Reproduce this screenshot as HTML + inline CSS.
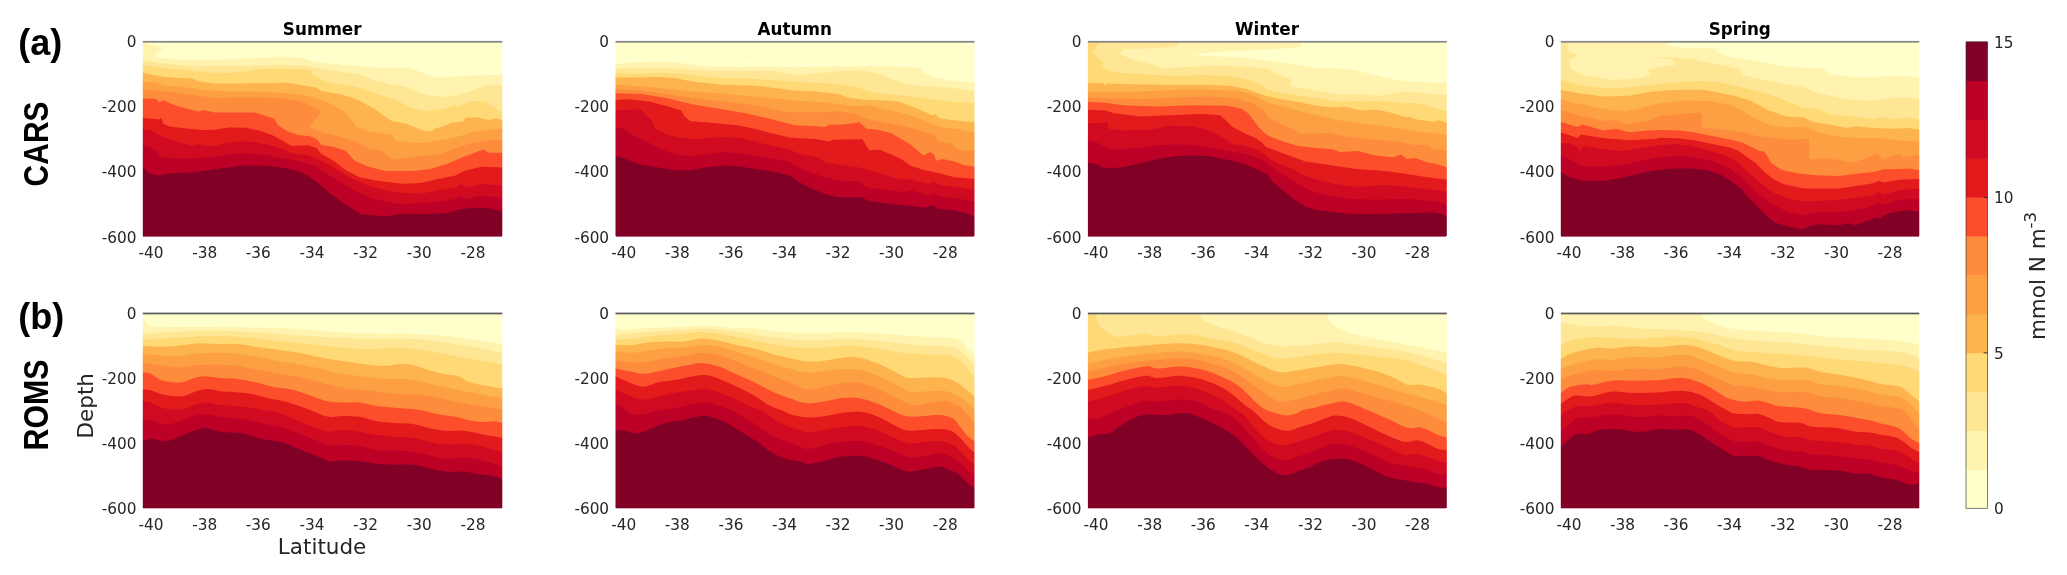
<!DOCTYPE html>
<html lang="en"><head><meta charset="utf-8"><title>Nitrate sections CARS vs ROMS</title>
<style>html,body{margin:0;padding:0;background:#fff}svg{display:block}.t{font-family:"DejaVu Sans","Liberation Sans",sans-serif;fill:#262626}.tk{font-size:15.3px}.ti{font-size:16.8px;font-weight:bold;fill:#000}.lb{font-size:21.5px}.big{font-family:"Liberation Sans","DejaVu Sans",sans-serif;font-weight:bold;fill:#000}</style></head><body>
<svg id="fig" style="will-change:transform;filter:blur(0.35px)" width="2067" height="575" viewBox="0 0 2067 575">
<rect width="2067" height="575" fill="#fff"/>
<defs><g id="pa1"><svg x="142" y="42" width="360.1" height="195" viewBox="0 0 1062 575" preserveAspectRatio="none" overflow="visible"><rect x="-10" y="-10" width="1082" height="595" fill="#ffffcc"/><path d="M-5,0 0,0 30,8 64,17 35,42 60,49 128,52 231,52.6 295,49 360,46.7 421,42.4 475,48 501,55.7 531,60.8 582,66 633,71 685,75 736,75 787,76 818,86.4 849,99 880,104.4 931,100.8 992,98.2 1062,96.7 1067,96.7 1067,580 -5,580Z" fill="#fff3af"/><path d="M-5,54.4 0,54.4 64,63.4 128,68.6 180,71 282,71 360,68.6 411,67.3 488,71 531,78.7 582,86.4 633,94 664,101.8 685,114.6 736,125 772,130 813,148 849,158 890,163.4 931,155.7 967,145.4 1013,128.5 1044,126.4 1062,126.4 1067,126.4 1067,580 -5,580Z" fill="#ffe694"/><path d="M-5,68.6 0,68.6 64,76.3 128,82.7 205,90.4 257,91.7 308,86.5 334,81.4 385,78.8 462,80 501,84 503,96.8 531,112 582,125 633,132.6 700,155.7 751,171 787,191.5 839,204.4 890,196.7 926,186.4 931,191.5 972,173.6 1013,176 1044,196.7 1062,209.5 1067,209.5 1067,580 -5,580Z" fill="#fed976"/><path d="M-5,90.4 0,90.4 51,100.7 103,105.8 144,107 167,116 218,122.5 270,122.5 372,121 424,120 462,125 514,135 531,145 582,153 633,168.5 685,196.7 736,232.6 777,240.3 828,260.8 854,263.4 864,255.7 890,248 915,237.7 946,235 956,222.3 992,222.3 1023,230 1044,225 1062,230 1067,230 1067,580 -5,580Z" fill="#feb44e"/><path d="M-5,117.4 0,117.4 38.5,118.6 64,127.6 116,131.5 154,138 180,141.8 257,146 334,146 411,150 466,155 500,162 531,171 562,184 603,209.5 633,250.6 659,260.8 736,273.6 753,293 825,298 876,290 928,280 979,264.6 1030,258 1062,256 1067,256 1067,580 -5,580Z" fill="#fda044"/><path d="M-5,140.5 0,140.5 77,145.6 154,156 216,166 257,163.6 334,162.6 411,166 462,174 493,186.7 529,205 510,230 494,252 533,267 569,275 635,295.4 668,314 709,321.6 740,347 770,342 822,337 873,332 924,314 976,296 1030,290 1062,290 1067,290 1067,580 -5,580Z" fill="#fd8d3c"/><path d="M-5,167 0,167 41,167 51,177.5 64,172 92,185 128,195 169,205.7 180,200.5 215,208 267,208 333,208 359,216 390,226 400,244 426,262 462,275 492,277.5 514,285 529,303.6 565,308.8 601,321.6 627,350 668,368 719,380.7 796,380.7 847,375.5 899,360 940,342 976,329 1007,316.5 1022,326.8 1062,326.8 1067,326.8 1067,580 -5,580Z" fill="#fc4e2a"/><path d="M-5,223.6 0,223.6 31,226 51,228.7 56,223.6 64,241.5 82,249 128,255 180,259.5 215,258.5 256,252 308,253 349,262 390,277.5 421,295 441,306.7 488,304.7 514,312 529,330 565,350 601,378 642,398.7 693,409 770,417.7 822,415.6 873,403.8 924,393.5 950,380.7 1001,367.8 1062,370.4 1067,370.4 1067,580 -5,580Z" fill="#e31a1c"/><path d="M-5,257 0,257 31,262 56,277.5 87,290 128,300.5 149,305.7 164,301.6 205,308 246,298 287,293 328,294.4 369,303 410,313 436,326 462,331 492,334 529,350 565,370 616,401 668,424 719,437 770,445 822,447.5 873,437 924,429.5 940,417.6 955,429.5 1001,419 1062,424 1067,424 1067,580 -5,580Z" fill="#d00a21"/><path d="M-5,305.7 0,305.7 26,311 46,326 56,339 103,344 154,342.6 205,339 256,332 308,328.8 359,332 410,341.6 462,352 513,367 565,401 616,432 668,458 719,470.5 755,477 822,475.7 873,470.5 924,463 940,452.6 955,463 1001,452.6 1062,460 1067,460 1067,580 -5,580Z" fill="#bd0026"/><path d="M-5,365 0,365 20,386 46,393.5 77,388 154,383 231,373 298,364 360,365 411,370 452,378 488,393.5 524,419 555,447 591,473 627,496 647,509 719,514 770,506.5 847,507.5 899,504 935,494 976,488.5 1027,490 1062,499 1067,499 1067,580 -5,580Z" fill="#800026"/></svg></g><g id="pa2"><svg x="615.1" y="42" width="360.1" height="195" viewBox="0 0 1062 575" preserveAspectRatio="none" overflow="visible"><rect x="-10" y="-10" width="1082" height="595" fill="#ffffcc"/><path d="M377,45 390,43.6 410,43.6 424,44.6 408,46 388,46Z" fill="#fff3af"/><path d="M-5,66 0,66 51,61 103,57.3 154,58.3 205,63.4 257,71 360,73.7 462,72 530,74.6 633,72.6 736,71 838,72.6 900,76 913,94 941,104.4 992,114.6 1062,120 1067,120 1067,580 -5,580Z" fill="#fff3af"/><path d="M-5,79 0,79 77,76 180,79 257,84 360,86.5 452,84 514,94 530,99 607,91.6 684,85 736,85 787,96.7 828,114.6 864,125 941,132.6 992,135 1062,145 1067,145 1067,580 -5,580Z" fill="#ffe694"/><path d="M-5,91.7 0,91.7 51,94 128,91.7 205,94 282,104.5 360,107 462,112 530,117 633,122.3 710,132.6 761,148 818,155.7 890,162 941,170 992,176 1062,180 1067,180 1067,580 -5,580Z" fill="#fed976"/><path d="M-5,104.5 0,104.5 51,104.5 128,103.5 180,107 231,117.4 308,125 411,128.7 488,138 530,143 582,145.4 659,153 684,163.4 736,170 787,172 838,176 879,191.6 915,207 936,217 946,213 956,225 992,230 1043,235 1062,235 1067,235 1067,580 -5,580Z" fill="#feb44e"/><path d="M-5,125 0,125 51,128.7 103,132.8 180,140.5 257,148 334,153.3 411,161 514,171.3 582,176 633,178.8 700,189 751,187.5 787,196.7 838,207 890,222.4 941,243 966,250.6 1018,258.3 1062,268.5 1067,268.5 1067,580 -5,580Z" fill="#fda044"/><path d="M-5,139 0,139 77,143 154,153.3 231,166 308,174 411,186.7 514,207 607,207 659,204.4 710,212 746,227.5 787,235 838,245.4 890,258.3 941,273.6 956,294 992,299.3 1018,320 1062,320 1067,320 1067,580 -5,580Z" fill="#fd8d3c"/><path d="M-5,150.7 0,150.7 77,153.3 154,166 231,184 308,197 385,210 462,227.8 530,245.4 582,248 618,250.6 633,244 674,243 720,236.7 741,255.7 772,258.3 813,268.5 849,289 873,303.6 909,334.5 930,324 940,332 948,350 966,344.7 1001,352.4 1027,362.7 1062,368 1067,368 1067,580 -5,580Z" fill="#fc4e2a"/><path d="M-5,171.3 0,171.3 41,168.7 103,176.4 154,189.3 195,202 205,220 221,233 282,238 360,245.8 411,256 462,269 514,281.7 539,283 591,285.7 632,293.4 642,288 729,287 750,319 781,318 822,334.5 847,347.3 873,365.3 914,378 950,385.8 1001,398.7 1062,403.8 1067,403.8 1067,580 -5,580Z" fill="#e31a1c"/><path d="M-5,202 0,202 77,198 92,215 108,230.4 118,256 154,274 195,283 231,287 277,283 320,280 370,283 411,293.4 462,306 514,316.5 539,329 565,334.5 596,339.6 621,355 668,362.7 719,370.4 770,383 822,401 873,406 924,419 940,411.5 955,421.8 1001,427 1062,437 1067,437 1067,580 -5,580Z" fill="#d00a21"/><path d="M-5,251 0,251 26,256 62,281.7 103,298.5 134,316.5 180,332 221,337 267,332 318,325 370,328 421,337 472,344.7 514,352.4 534,368 565,380.7 616,398.7 668,409 719,411.5 745,429.5 796,434.6 847,442.3 873,437 924,452.6 940,445 955,455 1001,460.3 1062,470.6 1067,470.6 1067,580 -5,580Z" fill="#bd0026"/><path d="M-5,334.5 0,334.5 31,344.7 67,360 128,370.4 180,378 221,378 267,370.4 318,364 370,368 421,375.5 472,383 514,393.5 539,411.5 575,429.5 616,447.5 657,457.7 693,457.7 729,457.7 745,468 796,475.7 847,480.8 914,488.5 935,480.8 950,491 1001,496 1048,509 1062,519 1067,519 1067,580 -5,580Z" fill="#800026"/></svg></g><g id="pa3"><svg x="1087.7" y="42" width="360.1" height="195" viewBox="0 0 1062 575" preserveAspectRatio="none" overflow="visible"><rect x="-10" y="-10" width="1082" height="595" fill="#ffffcc"/><path d="M-5,-5 1067,-5 1067,580 -5,580Z" fill="#fff3af"/><path d="M299,37.8 360,31 412,27.5 540,22.3 627.5,15.7 632.6,-5 1067,-5 1067,117.4 1028,120 951,117.4 900,109.7 823,91.7 771,78.8 669,76.3 617,66 540,55.7 463,45.5 386,43Z" fill="#ffffcc"/><path d="M-5,-5 -5,-5 268,-5 268,1.8 265.4,12 206,18.7 104,20.8 93.3,35 129,50.6 181,63.4 216.6,76.3 265.7,74.9 368.3,69.8 470.9,72.3 532.4,79 552.9,92.8 599,109.8 601.7,131.3 659.3,140.3 736.3,153 813.2,155.7 864.5,158.2 941.4,145.4 992.7,150.6 1062,155.7 1067,155.7 1067,580 -5,580Z" fill="#ffe694"/><path d="M-5,-5 -5,-5 31.7,-5 31.7,1.8 13.7,30 47,60.9 39.4,76.3 78,89 181,96.8 265.7,100.5 342.6,97 419.6,100.5 470.9,110.8 512,126.2 532.4,141.6 573.4,149.3 624.7,159.5 685,166 736.3,176.2 813.2,173.6 890,176.2 931,181.3 967,178.8 1018.4,194 1062,205 1067,205 1067,580 -5,580Z" fill="#fed976"/><path d="M-5,120 0,120 47,122.5 52,128.7 57,122.5 155,125 265.7,126.2 342.6,126.2 419.6,128.7 470.9,139 522.2,158 573.4,169.8 624.7,177.5 676,187.7 727.3,192.9 758,190.3 796.6,200.6 813.2,201.8 849,199.3 890,207 941.4,222.4 946.5,219.8 967,227.5 1018.4,235.2 1033.7,230 1062,240.3 1067,240.3 1067,580 -5,580Z" fill="#feb44e"/><path d="M-5,148 0,148 52,148 155,145.6 258,140.5 360,140.5 437,143 489,155 531,178.8 582.4,191.6 659.3,212 736.3,230 813.2,240.3 890,250.6 967,263.4 1062,273.6 1067,273.6 1067,580 -5,580Z" fill="#fda044"/><path d="M-5,163.6 0,163.6 78,166 155,168.7 258,163.6 360,161 437,166 489,181.6 520,199.5 531,222.4 582.4,248 633.7,271 710.6,268.5 762,278.8 838.8,286.5 915.8,294.2 967,304.4 1003,301.9 1018.4,317.2 1062,319.8 1067,319.8 1067,580 -5,580Z" fill="#fd8d3c"/><path d="M-5,176.4 0,176.4 52,179 104,186.7 206,190.3 309,186.7 412,188.2 453,197 473,209.8 489,230.4 504,251 525,271.4 545,281.7 576,293.4 617,306 658,311.3 720,316.5 746,324 797,321.6 848,334.5 900,339.6 925,332 941,344.7 966,342 1002,355 1028,360 1062,370.4 1067,370.4 1067,580 -5,580Z" fill="#fc4e2a"/><path d="M-5,199.5 0,199.5 52,202 78,209.8 155,220 258,215 335,212.4 391,216 412,235.5 427,251 463,269 494,283 514.5,296 525,308.8 566,324 607,339.6 643,352.4 694,360 746,368 797,375.5 848,378 900,383 951,391 1002,398.7 1062,406.4 1067,406.4 1067,580 -5,580Z" fill="#e31a1c"/><path d="M-5,240.6 0,240.6 52,238 57,233 62,256 104,261.2 181,258.6 247,246.8 309,248.3 360,261.2 401,283 427,301 463,306 494,314 520,329.3 540,347.3 566,360 607,375.5 643,396 694,411.5 746,421.8 797,427 874,421.8 925,424.4 977,432 1028,437 1062,442.3 1067,442.3 1067,580 -5,580Z" fill="#d00a21"/><path d="M-5,290.8 0,290.8 32,298.5 62.5,316.5 104,318 155,311.3 206,304.7 258,302.6 309,303.6 360,311.3 412,321.6 463,330.4 504,342 530,355 556,378 592,401 633,427 669,442.3 720,455 771,462.9 848,465.4 925,462.9 977,465.4 1028,470.6 1062,480.8 1067,480.8 1067,580 -5,580Z" fill="#bd0026"/><path d="M-5,355 0,355 21,359 52,373 104,369.4 155,357.6 206,344.7 258,337 309,334.5 360,337 412,347.3 463,360 504,378 530,391 545,411.5 576,437 607,462.9 638,483.4 669,494.7 720,501.4 771,506.5 823,508 874,507.5 925,505 977,504 1013,501.4 1049,509 1062,519 1067,519 1067,580 -5,580Z" fill="#800026"/></svg></g><g id="pa4"><svg x="1560.3" y="42" width="360.1" height="195" viewBox="0 0 1062 575" preserveAspectRatio="none" overflow="visible"><rect x="-10" y="-10" width="1082" height="595" fill="#ffffcc"/><path d="M-5,-5 1067,-5 1067,580 -5,580Z" fill="#fff3af"/><path d="M325,-5 325,1.8 309.8,8.2 358.6,17 474,19.8 456,27.5 487,40 530,49 590,58.3 667,73.7 770,77.3 800,94 872,104.5 949,102 1000,99.4 1067,104.5 1067,-5Z" fill="#ffffcc"/><path d="M-5,-5 -5,-5 23.5,-5 23.5,3 22,27.5 55.6,41.6 24.8,51.9 32.5,78.8 63.3,96.8 153,112 230,107 268.7,96.8 253.3,84 281.6,76.3 343,66 333,53 271.3,44 333,45.5 384,49.3 435.7,60.9 487,71 530,80 533,97 615.4,114.8 667,125 718,132.8 744,145.6 795,158.5 846.5,168.7 898,174 949,168.7 1000,162.6 1062,168.7 1067,168.7 1067,580 -5,580Z" fill="#ffe694"/><path d="M-5,111 0,111 50.5,125 127.5,136.6 179,135.3 256,127.6 333,120 410,114.8 461,117.4 530,132.8 564,140.5 615.4,153.3 667,174 718,194.4 759,197 800,215 872,220 923.6,227.8 949,220 975,227.8 1026,222.7 1062,230.4 1067,230.4 1067,580 -5,580Z" fill="#fed976"/><path d="M-5,140.5 0,140.5 50.5,150.7 127.5,161 204.5,158.5 256,148 307,143 358.6,140.5 420,140.5 461,148 512.7,158.5 564,174 615.4,202 667,220 718,222.7 744,235.5 795,243 846.5,253.5 872,248.3 923.6,253.5 975,256 1026,253.5 1062,258.6 1067,258.6 1067,580 -5,580Z" fill="#feb44e"/><path d="M-5,168.7 0,168.7 50.5,181.6 127.5,197 194,204.7 256,189.3 294,180 371,172.3 448,175 499,185 535,200.5 560.7,218.5 601.7,239 627.4,246.7 678.7,251.8 719.7,249.3 755.6,264.6 825,280 880,283 949,283 1000.6,290.8 1062,293.4 1067,293.4 1067,580 -5,580Z" fill="#fda044"/><path d="M-5,199.5 0,199.5 50.5,215 127.5,233 163.5,230.4 194,243 256,233 294,218.5 345,213.4 417,208.2 417,251.8 473.5,257 530,264.6 581,277.5 627.4,282.6 678.7,287.7 733,285 735,347 769.5,342 821,347.3 862,355 898,344.7 923.6,334.5 934,326.8 949,344.7 975,337 1000.6,329.3 1011,339.6 1062,332 1067,332 1067,580 -5,580Z" fill="#fd8d3c"/><path d="M-5,235.5 0,235.5 50.5,251 66,243 127.5,261 163.5,256 204.5,266.3 256,261 294,259.5 345,260.5 396.6,267 448,277.5 499,287.7 535,295.4 560.7,308 586.4,321 601.7,323.6 612,339 622,357 653,377.5 704.3,387.7 755.6,393 821,395 872,388.4 923.6,383 954.4,375.5 1000.6,374.5 1026,373 1062,378 1067,378 1067,580 -5,580Z" fill="#fc4e2a"/><path d="M-5,266.3 0,266.3 30,276 50.5,283 60.7,273 127.5,284 204.5,290 281.6,285 294,282.6 345,284 396.6,290 448,300.5 499,310.8 525,321 550.5,339 576,357 601.7,382.6 627.4,403 656.5,419 718,432 769.5,432 821,432 872,424.4 923.6,416.6 939,409 954.4,414 1000.6,406.4 1062,403.8 1067,403.8 1067,580 -5,580Z" fill="#e31a1c"/><path d="M-5,298.5 0,298.5 30,298.5 50.5,308.8 58,324 71,306 127.5,316.5 179,321.6 230,314 281.6,306 333,301 384,306 435.7,319 487,334.5 523,355 553.8,383 589.7,416.6 631,445 667,460.3 718,470.6 769.5,468 821,465.4 872,460.3 923.6,452.6 939,442.3 954.4,450 1000.6,437 1062,432 1067,432 1067,580 -5,580Z" fill="#d00a21"/><path d="M-5,334.5 0,334.5 24.8,344.7 50.5,360 76,367.8 127.5,367.8 179,362.7 230,352.4 281.6,342 333,337 384,338.6 435.7,347.3 487,365.3 523,391 553.8,419 589.7,452.6 625.7,478.3 667,498.8 718,511.7 744,504 795,501.4 846.5,498.8 898,491 928.7,478.3 939,473 949,480.8 1000.6,465.4 1062,462.9 1067,462.9 1067,580 -5,580Z" fill="#bd0026"/><path d="M-5,383 0,383 30,398.7 60.7,409 127.5,409 179,401 230,388.4 281.6,378 333,373 384,373 435.7,378 471.6,391 502.4,409 533,432 553.8,457.7 579.5,483.4 605,509 631,532 667,542.5 713,552.7 744,540 769.5,537.3 821,540 851.7,534.8 872,540 913,524.5 934,516.8 939,522 964.7,506.5 1000.6,498.8 1026,496 1062,501.4 1067,501.4 1067,580 -5,580Z" fill="#800026"/></svg></g><g id="pb1"><svg x="142.5" y="313.5" width="360.1" height="195" viewBox="0 0 1062 575" preserveAspectRatio="none" overflow="visible"><rect x="-10" y="-10" width="1082" height="595" fill="#ffffcc"/><path d="M-5,3C-4.2,3 -1.3,1.3 0,3C1.3,4.7 0.3,8.3 2.6,13C4.9,17.7 9.6,26.5 14,31C18.4,35.5 10.5,38.3 29.3,39.8C48.1,41.3 89.4,39.7 127,39.8C164.6,39.9 216.5,40.1 255,40.4C293.5,40.7 328,40.8 358,41.4C388,42 409.3,42.6 435,44C460.7,45.4 482,47.9 512,50C542,52.1 580.8,55.2 615,56.8C649.2,58.4 687.6,59 717.5,59.4C747.4,59.8 768.9,58.5 794.6,59.4C820.3,60.2 845.9,62.4 871.6,64.5C897.3,66.6 927.3,69.6 948.7,72.2C970.1,74.8 983.8,77.4 1000,80C1016.2,82.6 1035.7,85.9 1046,87.6C1056.3,89.3 1058.5,89.6 1062,90C1065.5,90.4 1066.2,90 1067,90L1067,580 L-5,580 Z" fill="#fff3af"/><path d="M-5,59.4C-4.2,59.4 -13.4,60.1 0,59.4C13.4,58.7 50.1,56.6 75.5,55.3C100.9,54 122.7,52.3 152.6,51.7C182.5,51.1 220.8,50.9 255,51.7C289.2,52.6 323.7,54.7 358,56.8C392.3,58.9 426.4,62.2 460.7,64.5C494.9,66.8 529.3,69 563.5,70.7C597.7,72.4 631.8,74.1 666,74.8C700.2,75.5 739,74.1 769,74.8C799,75.5 820.3,76.4 846,78.9C871.7,81.4 897.3,86 923,90C948.7,94 976.8,98.5 1000,103C1023.2,107.5 1050.8,114.7 1062,117C1073.2,119.3 1066.2,117 1067,117L1067,580 L-5,580 Z" fill="#ffe694"/><path d="M-5,77.3C-4.2,77.3 -13.4,78 0,77.3C13.4,76.6 47.5,74.9 75.5,73.2C103.5,71.5 138.1,67.9 168,67C197.9,66.1 227.7,67 255,68C282.3,69 306.3,70.8 332,73.2C357.7,75.6 379.4,79.2 409.4,82.5C439.4,85.8 482.1,89.8 512,92.8C541.9,95.8 563.3,98.4 589,100.5C614.7,102.6 640.3,105.6 666,105.6C691.7,105.6 721.6,100.9 743,100.5C764.4,100.1 773.2,100.4 794.6,103C816,105.6 850.2,112.1 871.6,115.9C893,119.7 905.9,122.8 923,126C940.1,129.2 957,132.2 974,135C991,137.8 1010.3,140.5 1025,143C1039.7,145.5 1055,148.8 1062,150C1069,151.2 1066.2,150 1067,150L1067,580 L-5,580 Z" fill="#fed976"/><path d="M-5,95.3C-4.2,95.3 -9.2,94.9 0,95.3C9.2,95.7 33.2,97.9 50,97.9C66.8,97.9 81.3,97 101,95.3C120.7,93.6 146.6,88.4 168,87.6C189.4,86.8 210.8,89.8 229.6,90.2C248.4,90.6 263.9,88.9 281,90.2C298.1,91.5 310.6,94.9 332,97.9C353.4,100.9 387.9,105 409.4,108C430.8,111 443.6,112.7 460.7,115.9C477.8,119.1 494.9,123.6 512,127C529.1,130.4 546.3,133.6 563.5,136.4C580.7,139.2 597.9,141.6 615,144C632.1,146.4 648.9,149.1 666,150.8C683.1,152.5 702.1,154.7 717.5,154.4C732.9,154.1 745.8,149.6 758.6,149.2C771.5,148.8 780,148.8 794.6,151.8C809.2,154.8 828.9,162.3 846,167C863.1,171.7 882.8,177 897.3,180C911.8,183 922.7,181.6 933,185C943.3,188.4 947.8,196.3 959,200.6C970.2,204.9 982.8,207.5 1000,210.9C1017.2,214.3 1050.8,219.3 1062,221C1073.2,222.7 1066.2,221 1067,221L1067,580 L-5,580 Z" fill="#feb44e"/><path d="M-5,118.4C-4.2,118.4 -9.2,117.5 0,118.4C9.2,119.3 33.2,122.3 50,123.6C66.8,124.9 83.9,126.9 101,126C118.1,125.1 131.2,120.1 152.6,118.4C174,116.7 208.2,115.9 229.6,115.9C251,115.9 263.9,116.6 281,118.4C298.1,120.2 310.6,123.2 332,127C353.4,130.8 383.7,136.9 409.4,141.5C435.1,146.1 460.7,149.2 486.4,154.4C512.1,159.6 537.8,167.3 563.5,172.4C589.2,177.5 614.8,181.6 640.5,185C666.2,188.4 696.1,191.7 717.5,193C738.9,194.3 751.9,191.7 769,193C786.1,194.3 803.2,197.2 820.3,200.6C837.4,204 854.5,209.6 871.6,213.4C888.7,217.2 905.9,220.3 923,223.7C940.1,227.1 957.2,230.6 974.3,234C991.4,237.4 1011.1,241.7 1025.7,244.3C1040.3,246.9 1055.1,248.6 1062,249.4C1068.9,250.2 1066.2,249.4 1067,249.4L1067,580 L-5,580 Z" fill="#fda044"/><path d="M-5,144C-4.2,144 -9.2,142.7 0,144C9.2,145.3 33.2,149.2 50,151.8C66.8,154.4 83.9,159.3 101,159.5C118.1,159.7 131.2,154.2 152.6,152.8C174,151.4 208.2,150.5 229.6,150.8C251,151.1 263.9,152.1 281,154.4C298.1,156.7 310.6,160.8 332,164.7C353.4,168.5 383.7,172.8 409.4,177.5C435.1,182.2 460.7,187 486.4,193C512.1,199 542.1,208.3 563.5,213.4C584.9,218.5 597.9,221.5 615,223.7C632.1,225.8 648.9,224.6 666,226.3C683.1,228 700.3,231.9 717.5,234C734.7,236.1 751.9,238.2 769,239C786.1,239.8 803.2,237.3 820.3,239C837.4,240.7 854.5,246 871.6,249.4C888.7,252.8 905.9,256.3 923,259.7C940.1,263.1 957.2,267.1 974.3,270C991.4,272.9 1011.1,275 1025.7,277C1040.3,279 1055.1,281.2 1062,282C1068.9,282.8 1066.2,282 1067,282L1067,580 L-5,580 Z" fill="#fd8d3c"/><path d="M-5,175C-4.2,175 -4.8,174.6 0,175C4.8,175.4 14,173.7 24,177.5C34,181.3 44.6,193.8 60,198C75.4,202.2 101.2,204.3 116.6,203C132,201.7 141.5,193.3 152.6,190.3C163.7,187.3 170.6,185 183.4,185C196.2,185 213.3,189 229.6,190.3C245.9,191.6 263.9,190.9 281,193C298.1,195.1 314.9,199.2 332,203C349.1,206.8 366.5,212.6 383.7,216C400.9,219.4 417.9,219.9 435,223.7C452.1,227.5 469.3,233.4 486.4,239C503.5,244.6 520.7,253.1 537.8,257C554.9,260.9 571.9,261.3 589,262.2C606.1,263.1 623.3,260.5 640.5,262.2C657.7,263.9 674.9,269.9 692,272.5C709.1,275.1 725.9,276.1 743,277.6C760.1,279.1 780,280.1 794.6,281.6C809.2,283.1 817.7,284.1 830.5,286.7C843.3,289.3 856.2,294 871.6,297C887,300 907.6,301.7 923,304.7C938.4,307.7 950.3,312.4 964,315C977.7,317.6 993,319.6 1005,320C1017,320.4 1026.5,317.2 1036,317.6C1045.5,318.1 1056.8,321.9 1062,322.7C1067.2,323.5 1066.2,322.7 1067,322.7L1067,580 L-5,580 Z" fill="#fc4e2a"/><path d="M-5,223.7C-4.2,223.7 -4.8,223.3 0,223.7C4.8,224.1 14,223.8 24,226.3C34,228.9 44.6,236 60,239C75.4,242 101.2,245.6 116.6,244.3C132,243 140.6,235 152.6,231.4C164.6,227.8 175.7,223.1 188.5,222.7C201.3,222.3 216.8,227.4 229.6,228.9C242.4,230.4 251,230.1 265.6,231.4C280.2,232.7 299.9,233.6 317,236.6C334.1,239.6 351.2,245.6 368.3,249.4C385.4,253.2 404.3,255.8 419.7,259.7C435.1,263.6 449.6,268.9 460.7,272.5C471.8,276.1 477.8,278.4 486.4,281.6C494.9,284.9 501.7,288.1 512,292C522.3,295.9 535.2,303 548,304.7C560.8,306.4 573.6,302 589,302C604.4,302 623.3,302.1 640.5,304.7C657.7,307.3 674.9,314.6 692,317.6C709.1,320.6 725.9,321.4 743,322.7C760.1,324 777.4,322.8 794.6,325.3C811.8,327.9 828.9,334.6 846,338C863.1,341.4 880.2,344.5 897.3,345.8C914.4,347.1 931.6,344.1 948.7,345.8C965.8,347.5 983.8,353 1000,356C1016.2,359 1035.7,362.1 1046,363.8C1056.3,365.5 1058.5,365.9 1062,366.3C1065.5,366.7 1066.2,366.3 1067,366.3L1067,580 L-5,580 Z" fill="#e31a1c"/><path d="M-5,259.7C-4.2,259.7 -4.8,259.3 0,259.7C4.8,260.1 13.1,258.8 24,262.2C34.9,265.6 49.9,276.8 65.3,280.2C80.7,283.6 102,284.5 116.6,282.8C131.2,281.1 140.6,273.4 152.6,270C164.6,266.6 175.7,262.2 188.5,262.2C201.3,262.2 216.8,268.3 229.6,270C242.4,271.7 251,271.2 265.6,272.5C280.2,273.8 303.3,275.9 317,277.6C330.7,279.4 336.6,281.1 347.7,283C358.8,284.9 371.7,286.5 383.7,289.3C395.7,292.1 406.9,294.9 419.7,299.6C432.5,304.3 445.3,311.2 460.7,317.6C476.1,324 497.4,332.9 512,338C526.5,343.1 535.2,347.6 548,348.4C560.8,349.2 573.6,343 589,343C604.4,343 623.3,345.8 640.5,348.4C657.7,351 674.9,356 692,358.6C709.1,361.2 725.9,362.5 743,363.8C760.1,365.1 777.4,363.8 794.6,366.3C811.8,368.8 828.9,375.6 846,379C863.1,382.4 880.2,386.1 897.3,387C914.4,387.9 931.6,383.5 948.7,384.3C965.8,385.1 983.8,388.6 1000,392C1016.2,395.4 1035.7,401.9 1046,404.9C1056.3,407.9 1058.5,409.1 1062,410C1065.5,410.9 1066.2,410 1067,410L1067,580 L-5,580 Z" fill="#d00a21"/><path d="M-5,315C-4.2,315 -4.8,315 0,315C4.8,315 12.3,312.9 24,315C35.7,317.1 55,327.8 70.4,327.8C85.8,327.8 102.9,319.3 116.6,315C130.3,310.7 140.6,305 152.6,302C164.6,299 175.7,296.6 188.5,297C201.3,297.4 216.8,302.6 229.6,304.7C242.4,306.8 252.8,308.5 265.6,309.8C278.5,311.1 291.3,309.8 306.7,312.4C322.1,315 340.9,321.4 358,325.3C375.1,329.2 392.3,330.8 409.4,335.5C426.5,340.2 443.6,347.1 460.7,353.5C477.8,359.9 496.6,368 512,374C527.4,380 540.2,387.3 553,389.5C565.8,391.7 574.4,386.6 589,387C603.6,387.4 623.3,389.4 640.5,392C657.7,394.6 674.9,400.2 692,402.3C709.1,404.4 725.9,404 743,404.9C760.1,405.8 777.4,405.3 794.6,407.4C811.8,409.5 828.9,414.3 846,417.7C863.1,421.1 880.2,426.7 897.3,428C914.4,429.3 931.6,424.6 948.7,425.4C965.8,426.2 983.8,429.6 1000,433C1016.2,436.4 1035.7,442.6 1046,446C1056.3,449.4 1058.5,452.4 1062,453.7C1065.5,455 1066.2,453.7 1067,453.7L1067,580 L-5,580 Z" fill="#bd0026"/><path d="M-5,376.6C-4.2,376.6 -5.7,377.9 0,376.6C5.7,375.3 17.6,369 29.3,369C41,369 56.7,377.9 70.4,376.6C84.1,375.3 97.8,366.1 111.5,361C125.2,355.9 139.8,349.6 152.6,345.8C165.4,342 175.7,337.6 188.5,338C201.3,338.4 216.8,346.2 229.6,348.4C242.4,350.6 252.8,349.7 265.6,351C278.5,352.3 291.3,352.6 306.7,356C322.1,359.4 340.9,367.7 358,371.5C375.1,375.3 392.3,374.3 409.4,379C426.5,383.7 443.6,392.8 460.7,399.7C477.8,406.6 496.6,414.3 512,420.3C527.4,426.3 540.2,433.6 553,435.7C565.8,437.8 574.4,433 589,433C603.6,433 623.3,434 640.5,435.7C657.7,437.4 674.9,441.7 692,443.4C709.1,445.1 725.9,445.6 743,446C760.1,446.4 777.4,444.3 794.6,446C811.8,447.7 828.9,452.8 846,456.2C863.1,459.6 880.2,464.8 897.3,466.5C914.4,468.2 931.6,465.2 948.7,466.5C965.8,467.8 983.8,471.6 1000,474.2C1016.2,476.8 1035.7,479.4 1046,482C1056.3,484.6 1058.5,488.3 1062,489.6C1065.5,490.9 1066.2,489.6 1067,489.6L1067,580 L-5,580 Z" fill="#800026"/></svg></g><g id="pb2"><svg x="615.1" y="313.5" width="360.1" height="195" viewBox="0 0 1062 575" preserveAspectRatio="none" overflow="visible"><rect x="-10" y="-10" width="1082" height="595" fill="#ffffcc"/><path d="M-5,38.8C-4.2,38.8 -3.3,37.5 0,38.8C3.3,40.1 6.5,45.4 15,46.5C23.5,47.6 32.2,46.4 51,45.5C69.8,44.6 102.3,42.5 128,41.4C153.7,40.3 183.6,39.8 205,38.8C226.4,37.8 239.3,35.2 256.5,35.2C273.7,35.2 290.9,37.5 308,38.8C325.1,40.1 341.9,42.1 359,43C376.1,43.9 393.4,42.5 410.6,44C427.8,45.5 440.6,49.6 462,51.7C483.4,53.8 513.3,55.9 539,56.8C564.7,57.6 590.3,57.2 616,56.8C641.7,56.4 667.3,54 693,54.2C718.7,54.5 744.3,56.6 770,58.3C795.7,60 821.3,62.6 847,64.5C872.7,66.4 900,68.3 924,69.6C948,70.9 974.7,70 991,72.2C1007.3,74.4 1014.1,77.4 1021.8,82.5C1029.5,87.6 1030.3,96.8 1037,103C1043.7,109.2 1057,117.2 1062,120C1067,122.8 1066.2,120 1067,120L1067,580 L-5,580 Z" fill="#fff3af"/><path d="M-5,62C-4.2,62 -9.3,62.4 0,62C9.3,61.6 29.7,61.1 51,59.4C72.3,57.7 102.3,53.6 128,51.7C153.7,49.8 183.6,49.3 205,48C226.4,46.7 239.3,44 256.5,44C273.7,44 290.9,46.3 308,48C325.1,49.7 341.9,51.9 359,54.2C376.1,56.5 393.4,59.4 410.6,62C427.8,64.6 440.6,67 462,69.6C483.4,72.1 513.3,76 539,77.3C564.7,78.6 590.3,77.7 616,77.3C641.7,76.9 667.3,74.3 693,74.8C718.7,75.2 744.3,77.9 770,80C795.7,82.1 821.3,85 847,87.6C872.7,90.1 900,93.6 924,95.3C948,97 973.8,94.1 991,97.9C1008.2,101.7 1015.2,108.5 1027,118C1038.8,127.5 1055.3,148.8 1062,155C1068.7,161.2 1066.2,155 1067,155L1067,580 L-5,580 Z" fill="#ffe694"/><path d="M-5,77.3C-4.2,77.3 -9.3,77.7 0,77.3C9.3,76.9 29.7,76.9 51,74.8C72.3,72.7 102.3,67.1 128,64.5C153.7,61.9 183.6,61.1 205,59.4C226.4,57.7 239.3,54.2 256.5,54.2C273.7,54.2 290.9,56.8 308,59.4C325.1,62 341.9,66.2 359,69.6C376.1,73 393.4,76.6 410.6,80C427.8,83.4 440.6,86.8 462,90.2C483.4,93.6 513.3,98.8 539,100.5C564.7,102.2 590.3,101.4 616,100.5C641.7,99.6 667.3,94.9 693,95.3C718.7,95.7 744.3,99.6 770,103C795.7,106.4 821.3,112.9 847,115.9C872.7,118.9 900,119.7 924,121C948,122.3 973.8,119.1 991,123.6C1008.2,128.1 1015.2,136.9 1027,148C1038.8,159.1 1055.3,183 1062,190C1068.7,197 1066.2,190 1067,190L1067,580 L-5,580 Z" fill="#fed976"/><path d="M-5,92.8C-4.2,92.8 -9.3,92.8 0,92.8C9.3,92.8 33.9,94.1 51,92.8C68.1,91.5 85.3,86.7 102.4,85C119.5,83.3 136.7,82.9 153.8,82.5C170.9,82.1 187.9,84 205,82.5C222.1,81 239.3,74.1 256.5,73.7C273.7,73.3 290.9,76.8 308,80C325.1,83.2 341.9,89 359,92.8C376.1,96.6 393.4,98.7 410.6,103C427.8,107.3 444.9,113.7 462,118.4C479.1,123.1 496.2,127.5 513.3,131.3C530.4,135.2 547.6,140.2 564.7,141.5C581.8,142.8 598.9,140.7 616,139C633.1,137.3 652.9,133 667.4,131.3C681.9,129.6 690.5,127.8 703.3,128.7C716.1,129.5 729,131.7 744.4,136.4C759.8,141.1 778.7,149.3 795.8,157C812.9,164.7 834.2,177 847,182.6C859.8,188.2 860,189.4 872.8,190.3C885.6,191.2 906.9,187.8 924,187.8C941.1,187.8 960.9,187.3 975.5,190.3C990.1,193.3 999.5,198.4 1011.5,205.7C1023.5,213 1039,226.7 1047.4,234C1055.8,241.3 1058.7,246.8 1062,249.4C1065.3,252 1066.2,249.4 1067,249.4L1067,580 L-5,580 Z" fill="#feb44e"/><path d="M-5,110.7C-4.2,110.7 -9.3,109.8 0,110.7C9.3,111.6 33.9,116.4 51,115.9C68.1,115.5 85.3,110.2 102.4,108C119.5,105.8 136.7,104.2 153.8,103C170.9,101.8 187.9,102.2 205,100.5C222.1,98.8 239.3,93.2 256.5,92.8C273.7,92.4 290.9,94.5 308,97.9C325.1,101.3 341.9,108.2 359,113.3C376.1,118.4 393.4,123.1 410.6,128.7C427.8,134.3 444.9,141.1 462,146.7C479.1,152.2 496.2,157.3 513.3,162C530.4,166.7 547.6,173.7 564.7,175C581.8,176.3 598.9,171.5 616,169.8C633.1,168.1 652,165.5 667.4,164.7C682.8,163.8 695.7,163.4 708.5,164.7C721.3,166 729.9,167.7 744.4,172.4C758.9,177.1 778.7,185.3 795.8,193C812.9,200.7 834.2,212.2 847,218.6C859.8,225 860,229.7 872.8,231.4C885.6,233.1 906.9,229.3 924,228.9C941.1,228.5 960.9,226.3 975.5,228.9C990.1,231.5 999.5,237.5 1011.5,244.3C1023.5,251.2 1039,262.7 1047.4,270C1055.8,277.3 1058.7,285 1062,288C1065.3,291 1066.2,288 1067,288L1067,580 L-5,580 Z" fill="#fda044"/><path d="M-5,139C-4.2,139 -9.3,138.2 0,139C9.3,139.8 33.9,143.6 51,144C68.1,144.4 85.3,143.6 102.4,141.5C119.5,139.4 136.7,133.9 153.8,131.3C170.9,128.7 187.9,128.6 205,126C222.1,123.4 239.3,116.3 256.5,115.9C273.7,115.5 290.9,119.3 308,123.6C325.1,127.9 341.9,135.1 359,141.5C376.1,147.9 393.4,155.2 410.6,162C427.8,168.8 444.9,175.8 462,182.6C479.1,189.4 496.2,196.2 513.3,203C530.4,209.8 547.6,221.5 564.7,223.7C581.8,225.9 598.9,219 616,216C633.1,213 652,207.9 667.4,205.7C682.8,203.5 695.7,202.1 708.5,203C721.3,203.9 729.9,206.2 744.4,210.9C758.9,215.6 778.7,223.7 795.8,231.4C812.9,239.1 832.5,250.6 847,257C861.5,263.4 870.2,268.7 883,270C895.8,271.3 908.6,267 924,264.8C939.4,262.6 961.8,256.1 975.5,257C989.2,257.9 997.8,265.7 1006.4,270C1015,274.3 1021,277.7 1027,283C1033,288.3 1036.5,295 1042.3,302C1048.1,309 1057.9,321.2 1062,325C1066.1,328.8 1066.2,325 1067,325L1067,580 L-5,580 Z" fill="#fd8d3c"/><path d="M-5,162C-4.2,162 -9.3,160.3 0,162C9.3,163.7 35.7,169.8 51,172.4C66.3,175 74.9,178.8 92,177.5C109.1,176.2 135,168.5 153.8,164.7C172.6,160.8 187.9,157.6 205,154.4C222.1,151.2 239.3,145.3 256.5,145.7C273.7,146.1 290.9,151.3 308,157C325.1,162.7 341.9,172.3 359,180C376.1,187.7 393.4,194.8 410.6,203C427.8,211.2 444.9,221.2 462,228.9C479.1,236.6 496.2,243.4 513.3,249.4C530.4,255.4 547.6,263.1 564.7,264.8C581.8,266.5 598.9,262.3 616,259.7C633.1,257.1 650.3,251.1 667.4,249.4C684.5,247.7 701.6,246.8 718.7,249.4C735.8,252 754.6,259.2 770,264.8C785.4,270.4 798.4,277.2 811.2,283C824,288.8 836.7,296 847,299.6C857.3,303.2 861.6,304.3 872.8,304.7C884,305.1 899.5,302.9 914,302C928.5,301.1 946.3,298.3 960,299.6C973.7,300.9 986.6,304.2 996,309.8C1005.4,315.4 1008.9,324 1016.6,333C1024.3,342 1034.7,356.5 1042.3,363.8C1049.9,371.1 1057.9,374.5 1062,376.6C1066.1,378.7 1066.2,376.6 1067,376.6L1067,580 L-5,580 Z" fill="#fc4e2a"/><path d="M-5,185C-4.2,185 -7.6,182 0,185C7.6,188 27.1,197.8 40.8,203C54.5,208.2 67.5,216 82,216C96.5,216 111.8,206.4 128,203C144.2,199.6 162.4,198.5 179.5,195.5C196.6,192.5 216.2,187.3 230.8,185C245.4,182.7 253.9,180.3 266.8,181.6C279.7,182.9 292.6,187.3 308,193C323.4,198.7 341.9,207.9 359,216C376.1,224.1 395.2,232.7 410.6,241.7C426.1,250.7 438.9,262.9 451.7,270C464.5,277.1 475.6,279.1 487.6,284C499.6,288.9 510.8,295.9 523.6,299.6C536.5,303.3 551,305.1 564.7,306C578.4,306.9 592,306.2 605.7,304.7C619.4,303.2 632.2,299.3 646.8,297C661.3,294.7 679.3,291.8 693,290.8C706.7,289.8 716.2,288.9 729,290.8C741.8,292.7 756.3,296.7 770,302C783.7,307.3 798.4,316.2 811.2,322.7C824,329.1 836.7,336.8 847,340.7C857.3,344.6 861.6,345.4 872.8,345.8C884,346.2 899.5,343.9 914,343C928.5,342.1 946.3,339.8 960,340.7C973.7,341.6 985.7,343.3 996,348.4C1006.3,353.5 1013.2,362.9 1021.8,371.5C1030.4,380.1 1040.7,393.3 1047.4,399.7C1054.1,406.1 1058.7,408.3 1062,410C1065.3,411.7 1066.2,410 1067,410L1067,580 L-5,580 Z" fill="#e31a1c"/><path d="M-5,223.7C-4.2,223.7 -7.6,220.7 0,223.7C7.6,226.7 27.1,236.6 40.8,241.7C54.5,246.8 67.5,254.1 82,254.5C96.5,254.9 111.8,247.7 128,244.3C144.2,240.9 162.4,237 179.5,234C196.6,231 216.2,228.2 230.8,226.3C245.4,224.4 253.9,221.4 266.8,222.7C279.7,224 292.6,228.7 308,234C323.4,239.3 343.6,247.7 359,254.5C374.4,261.3 389.1,270.1 400.3,275C411.5,279.9 415.7,278.6 426,284C436.3,289.4 449.2,299.6 462,307.3C474.8,315 489.3,324.4 503,330.4C516.7,336.3 533.7,339.6 544,343C554.3,346.4 554.4,350.5 564.7,351C575,351.5 592,348 605.7,345.8C619.4,343.6 632.2,340.1 646.8,338C661.3,335.9 679.3,333.8 693,333C706.7,332.2 716.2,331.3 729,333C741.8,334.7 756.3,338.3 770,343C783.7,347.7 798.4,355.4 811.2,361C824,366.6 836.7,372.7 847,376.6C857.3,380.5 861.6,383.9 872.8,384.3C884,384.7 899.5,380.3 914,379C928.5,377.7 946.3,375.3 960,376.6C973.7,377.9 985.7,381.4 996,387C1006.3,392.6 1013.2,401.9 1021.8,410C1030.4,418.1 1040.7,429.7 1047.4,435.7C1054.1,441.7 1058.7,444.3 1062,446C1065.3,447.7 1066.2,446 1067,446L1067,580 L-5,580 Z" fill="#d00a21"/><path d="M-5,264.8C-4.2,264.8 -5.1,262.2 0,264.8C5.1,267.4 16.9,274.8 25.4,280.2C33.9,285.6 40.7,294.2 51,297C61.3,299.8 76.7,298.3 87,297C97.3,295.7 104.1,291.5 112.7,289.3C121.3,287.1 127.3,285.9 138.4,284C149.5,282.1 164.1,280.4 179.5,277.6C194.9,274.8 216.2,270 230.8,267.4C245.4,264.8 253.9,261.3 266.8,262.2C279.7,263.1 296,268.9 308,272.5C320,276.1 328.4,279.5 338.7,284C348.9,288.5 357.5,292.7 369.5,299.6C381.5,306.5 396.9,316.3 410.6,325.3C424.3,334.3 438,345.4 451.7,353.5C465.4,361.6 479.1,368.4 492.8,374C506.5,379.6 521.8,382.7 533.8,387C545.8,391.3 552.7,398.9 564.7,399.7C576.7,400.5 592,395 605.7,392C619.4,389 632.2,384.4 646.8,381.8C661.3,379.2 679.3,377.5 693,376.6C706.7,375.7 716.2,374.9 729,376.6C741.8,378.3 756.3,382.7 770,387C783.7,391.3 798.4,397.2 811.2,402.3C824,407.4 836.7,413.9 847,417.7C857.3,421.5 861.6,425 872.8,425.4C884,425.8 899.5,422.4 914,420.3C928.5,418.2 947.2,412.2 960,412.6C972.8,413 981.6,418.1 991,422.8C1000.4,427.5 1008.1,433.9 1016.6,440.8C1025.2,447.7 1034.7,457.6 1042.3,464C1049.9,470.4 1057.9,476.8 1062,479.3C1066.1,481.9 1066.2,479.3 1067,479.3L1067,580 L-5,580 Z" fill="#bd0026"/><path d="M-5,343C-4.2,343 -5.9,342.5 0,343C5.9,343.5 21.1,344.1 30.5,345.8C39.9,347.6 46,353.5 56.2,353.5C66.5,353.5 80,349.7 92,345.8C104,341.9 115.2,335.1 128,330.4C140.8,325.7 156.2,320.2 169,317.6C181.8,315 194.7,316.9 205,315C215.3,313.1 220.5,308.2 230.8,306C241.1,303.8 255.7,301.4 266.8,302C277.9,302.6 285.6,305.5 297.6,309.8C309.6,314.1 325,320.5 338.7,327.8C352.4,335.1 366.1,345 379.8,353.5C393.5,362 407.2,369.6 420.9,379C434.6,388.4 448.3,401.8 462,410C475.7,418.2 489.3,423.7 503,428C516.7,432.3 533.7,433.1 544,435.7C554.3,438.3 554.4,443 564.7,443.4C575,443.8 592,441.2 605.7,438.2C619.4,435.2 632.2,428.4 646.8,425.4C661.3,422.4 679.3,421.1 693,420.3C706.7,419.5 716.2,418.6 729,420.3C741.8,422 756.3,426.2 770,430.5C783.7,434.8 798.4,440.9 811.2,446C824,451.1 836.7,458 847,461.4C857.3,464.8 861.6,466.9 872.8,466.5C884,466.1 899.5,461.2 914,458.8C928.5,456.4 948,451.6 960,452C972,452.4 977.2,458.1 985.8,461.4C994.4,464.7 1003,465.6 1011.5,471.6C1020,477.6 1028.6,490 1037,497.3C1045.4,504.6 1057,512.3 1062,515.3C1067,518.3 1066.2,515.3 1067,515.3L1067,580 L-5,580 Z" fill="#800026"/></svg></g><g id="pb3"><svg x="1087.7" y="313.5" width="360.1" height="195" viewBox="0 0 1062 575" preserveAspectRatio="none" overflow="visible"><rect x="-10" y="-10" width="1082" height="595" fill="#ffffcc"/><path d="M-5,-5 1067,-5 1067,580 -5,580Z" fill="#fff3af"/><path d="M704.5,-5 704.5,0.3 712,18.3 730,38.8 761,54.2 822.7,69.6 899.7,84 976.7,97.9 1028,109.7 1067,116 1067,-5Z" fill="#ffffcc"/><path d="M-5,-5C-5,-5 -61.2,-5 -5,-5C51.2,-5 275.8,-5.9 332,-5C388.2,-4.1 330.7,-3.6 332,0.3C333.3,4.2 333.6,12.7 340,18.3C346.4,23.9 358.7,28.8 370.7,33.7C382.7,38.7 396.4,42.9 411.8,48C427.2,53.1 445.9,58.3 463,64.5C480.1,70.7 497.3,79.6 514.5,85C531.7,90.4 548.9,95.2 566,96.9C583.1,98.6 599.9,96.4 617,95.3C634.1,94.2 651.4,91.9 668.6,90.2C685.8,88.5 702.9,85.2 720,85C737.1,84.8 754.2,87.5 771.3,89.2C788.4,90.9 805.6,93 822.7,95.3C839.8,97.6 856.9,100.6 874,103C891.1,105.4 908.3,106.5 925.4,109.7C942.5,112.9 959.6,117.5 976.7,122C993.8,126.5 1013.8,132.8 1028,137C1042.2,141.2 1055.5,145.3 1062,147C1068.5,148.7 1066.2,147 1067,147L1067,580 L-5,580 Z" fill="#ffe694"/><path d="M-5,-5C-5,-5 -9.8,-5 -5,-5C-0.2,-5 19.2,-5.9 24,-5C28.8,-4.1 23.2,-4.4 24,0.3C24.8,5 26.4,16.5 29,23.4C31.6,30.2 30.4,33.9 39.4,41.4C48.4,48.9 68,64.8 83,68.6C98,72.4 114.7,66.2 129.3,64.5C143.9,62.8 157.6,57.6 170.4,58.3C183.2,59 193.5,67.6 206.3,68.6C219.1,69.6 234.6,65.6 247.4,64.5C260.2,63.4 268.8,61.6 283.4,62C297.9,62.4 317.6,64.5 334.7,67C351.8,69.5 368.9,73.9 386,77.3C403.1,80.7 420.4,82.5 437.5,87.6C454.6,92.7 471.7,101.6 488.8,108C505.9,114.4 527.1,122 540,126C552.9,130.1 553.2,131.9 566,132.3C578.8,132.8 599.9,130.6 617,128.7C634.1,126.8 651.4,123.1 668.6,121C685.8,118.9 702.9,116.3 720,115.9C737.1,115.5 754.2,117.1 771.3,118.4C788.4,119.7 805.6,121.9 822.7,123.6C839.8,125.3 856.9,126.8 874,128.7C891.1,130.6 908.3,131.4 925.4,135C942.5,138.6 959.6,144.5 976.7,150C993.8,155.5 1013.8,162.7 1028,168C1042.2,173.3 1055.5,179.7 1062,182C1068.5,184.3 1066.2,182 1067,182L1067,580 L-5,580 Z" fill="#fed976"/><path d="M-5,115.9C-4.2,115.9 -9.5,117.6 0,115.9C9.5,114.2 30.4,108.6 52,105.6C73.5,102.6 103.6,100.3 129.3,97.9C155,95.5 182.4,92.9 206.3,91.2C230.2,89.5 251.6,87.3 273,87.6C294.4,87.9 311.6,89.4 334.7,92.8C357.8,96.2 390.4,102 411.8,108C433.2,114 445.9,121 463,128.7C480.1,136.4 497.3,146.9 514.5,154.4C531.7,161.9 548.9,171.1 566,173.4C583.1,175.7 599.9,170.5 617,168.2C634.1,165.9 651.4,162.4 668.6,159.5C685.8,156.6 707.2,152.5 720,150.8C732.8,149.1 732.8,148.2 745.6,149.2C758.4,150.2 779.9,153.6 797,157C814.1,160.4 831.3,164.7 848.4,169.8C865.5,174.9 883.4,181 899.7,187.8C916,194.7 933.2,207.3 946,210.9C958.8,214.5 963,207.8 976.7,209.3C990.4,210.8 1013.8,215.4 1028,220C1042.2,224.6 1055.5,234.2 1062,237C1068.5,239.8 1066.2,237 1067,237L1067,580 L-5,580 Z" fill="#feb44e"/><path d="M-5,146.7C-4.2,146.7 -9.5,148.4 0,146.7C9.5,145 30.4,140.2 52,136.4C73.5,132.6 103.6,127 129.3,123.6C155,120.2 182.4,117.9 206.3,115.9C230.2,113.9 251.6,111.3 273,111.7C294.4,112.1 311.6,114.3 334.7,118.4C357.8,122.5 390.4,129.1 411.8,136.4C433.2,143.7 445.9,152.6 463,162C480.1,171.4 497.3,184 514.5,193C531.7,202 548.9,213.4 566,216C583.1,218.6 599.9,211.3 617,208.3C634.1,205.3 651.4,201.4 668.6,198C685.8,194.6 705.4,190 720,187.8C734.6,185.6 743.2,184.1 756,185C768.8,185.9 781.6,189.1 797,193C812.4,196.9 831.3,203.2 848.4,208.3C865.5,213.4 882.6,218.6 899.7,223.7C916.8,228.8 933.9,234.3 951,239C968.1,243.7 983.9,246.5 1002.4,252C1020.9,257.5 1051.2,268.7 1062,272C1072.8,275.3 1066.2,272 1067,272L1067,580 L-5,580 Z" fill="#fda044"/><path d="M-5,169.8C-4.2,169.8 -9.5,171.5 0,169.8C9.5,168.1 30.4,163.8 52,159.5C73.5,155.2 103.6,147.8 129.3,144C155,140.2 182.4,138.5 206.3,136.4C230.2,134.3 251.6,130.9 273,131.3C294.4,131.7 311.6,133.9 334.7,139C357.8,144.1 390.4,153 411.8,162C433.2,171 445.9,181.8 463,193C480.1,204.2 497.3,217.8 514.5,228.9C531.7,240 548.9,255.8 566,259.7C583.1,263.6 599.9,255.4 617,252C634.1,248.6 651.4,243.3 668.6,239C685.8,234.7 705.4,229.3 720,226.3C734.6,223.3 743.2,220.2 756,221C768.8,221.8 781.6,227.1 797,231.4C812.4,235.7 831.3,242.1 848.4,246.8C865.5,251.5 882.6,255 899.7,259.7C916.8,264.4 934,268.9 951,275C968,281.1 986.7,289.3 1002,296C1017.3,302.7 1033,311.2 1043,315C1053,318.8 1058,318.3 1062,319C1066,319.7 1066.2,319 1067,319L1067,580 L-5,580 Z" fill="#fd8d3c"/><path d="M-5,195.5C-4.2,195.5 -9.5,197.2 0,195.5C9.5,193.8 34.7,189.3 52,185C69.3,180.7 83.9,174.6 103.6,169.8C123.3,165 153.3,157.3 170.4,156C187.5,154.7 189.2,162 206.3,162C223.4,162 251.6,155.6 273,156C294.4,156.4 315.9,160.3 334.7,164.7C353.5,169.1 368.9,175.3 386,182.6C403.1,189.9 422.9,198.9 437.5,208.3C452.1,217.7 462.3,228.7 473.4,239C484.5,249.3 495.4,262.7 504,270C512.6,277.3 516.2,278.9 524.8,283C533.4,287.1 545.3,291.4 555.6,294.4C565.9,297.4 576.2,301 586.4,301C596.6,301 609.3,297.1 617,294.4C624.7,291.7 624,287.8 632.6,285C641.2,282.2 654,281 668.6,277.6C683.2,274.2 705.4,267.8 720,264.8C734.6,261.8 743.2,258.4 756,259.7C768.8,261 785.9,268.4 797,272.5C808.1,276.6 813.3,279.9 822.7,284C832.1,288.1 841.5,291.8 853.5,297C865.5,302.2 882.6,309.4 894.6,315C906.6,320.6 916,326.6 925.4,330.4C934.8,334.2 942.5,337.1 951,338C959.5,338.9 968.1,334.7 976.7,335.5C985.3,336.3 993,339.1 1002.4,343C1011.8,346.9 1023.3,354.7 1033.2,358.6C1043.1,362.5 1056.4,365 1062,366.3C1067.6,367.6 1066.2,366.3 1067,366.3L1067,580 L-5,580 Z" fill="#fc4e2a"/><path d="M-5,226.3C-4.2,226.3 -9.5,228.5 0,226.3C9.5,224.2 34.7,218.1 52,213.4C69.3,208.7 83.9,203 103.6,198C123.3,193 153.3,184.9 170.4,183.6C187.5,182.3 189.2,190.3 206.3,190.3C223.4,190.3 251.6,183 273,183.6C294.4,184.2 315.9,189 334.7,194C353.5,199 370.6,205.9 386,213.4C401.4,220.9 414.2,229.6 427,239C439.8,248.4 453.6,262.5 463,270C472.4,277.5 476.8,278.7 483.7,284C490.6,289.3 496.5,295.1 504.2,302C511.9,308.9 520.6,318.9 530,325.3C539.4,331.8 550.5,337.3 560.7,340.7C571,344.1 582.1,346.2 591.5,345.8C600.9,345.4 605.9,341.4 617,338C628.1,334.6 644.6,330 658.3,325.3C672,320.6 687.4,313.9 699.4,309.8C711.4,305.8 718.2,301.4 730.2,301C742.2,300.6 757.6,303.2 771.3,307.3C785,311.4 798.7,318.9 812.4,325.3C826.1,331.7 839.8,339.4 853.5,345.8C867.2,352.2 880.9,358.3 894.6,363.8C908.3,369.3 922.9,377.3 935.7,379C948.5,380.7 960.5,373.1 971.6,374C982.7,374.9 992.1,380 1002.4,384.3C1012.7,388.6 1023.3,396.7 1033.2,399.7C1043.1,402.7 1056.4,401.9 1062,402.3C1067.6,402.7 1066.2,402.3 1067,402.3L1067,580 L-5,580 Z" fill="#e31a1c"/><path d="M-5,259.7C-4.2,259.7 -9.5,261.8 0,259.7C9.5,257.6 34.7,251.9 52,246.8C69.3,241.7 83.9,234.3 103.6,228.9C123.3,223.5 153.3,216.2 170.4,214.5C187.5,212.8 189.2,218.8 206.3,218.6C223.4,218.4 254.2,213 273,213.4C291.8,213.8 304.7,217.1 319.3,221C333.9,224.9 346.7,230.6 360.4,236.6C374.1,242.6 388.6,249.1 401.5,257C414.4,264.9 427.2,276.5 437.5,284C447.8,291.5 454.4,293.8 463,302C471.6,310.2 479.4,322.3 488.8,333C498.2,343.7 510.2,358.2 519.6,366.3C529,374.4 535.9,377.9 545.3,381.8C554.7,385.7 564,390 576,389.5C588,389 603.3,382.9 617,379C630.7,375.1 644.6,371 658.3,366.3C672,361.6 687.4,354.9 699.4,351C711.4,347.1 718.2,343.4 730.2,343C742.2,342.6 757.6,344.9 771.3,348.4C785,351.9 798.7,358.2 812.4,363.8C826.1,369.4 839.8,375.8 853.5,381.8C867.2,387.8 880.9,393.7 894.6,399.7C908.3,405.7 924.6,415.5 935.7,417.7C946.8,419.9 950.2,411.8 961.3,412.6C972.4,413.5 990.4,419 1002.4,422.8C1014.4,426.6 1023.3,433.1 1033.2,435.7C1043.1,438.3 1056.4,437.8 1062,438.2C1067.6,438.6 1066.2,438.2 1067,438.2L1067,580 L-5,580 Z" fill="#d00a21"/><path d="M-5,312.4C-4.2,312.4 -6.1,312.8 0,312.4C6.1,312 23,311.5 31.7,309.8C40.4,308.1 44.6,305.4 52.3,302C60,298.6 71.2,292.3 78,289.3C84.8,286.3 84.8,287.2 93.3,284C101.8,280.8 116.5,274.5 129.3,270C142.2,265.5 157.6,258.7 170.4,257C183.2,255.3 189.2,260.3 206.3,259.7C223.4,259.1 254.2,253.5 273,253.5C291.8,253.5 304.7,255.7 319.3,259.7C333.9,263.7 351,273.6 360.4,277.6C369.8,281.7 367.2,280.8 375.8,284C384.4,287.2 399.8,290.6 411.8,297C423.8,303.4 435.7,311.6 447.7,322.7C459.7,333.8 472.6,351 483.7,363.8C494.8,376.6 504.2,389.9 514.5,399.7C524.8,409.5 534.2,417.2 545.3,422.8C556.4,428.4 569.3,433 581.3,433C593.2,433 604.2,426.6 617,422.8C629.8,419 644.6,415.1 658.3,410C672,404.9 685.7,396.3 699.4,392C713.1,387.7 728.5,384.7 740.5,384.3C752.5,383.9 759.3,386.1 771.3,389.5C783.3,392.9 798.7,399.3 812.4,404.9C826.1,410.4 839.8,416.8 853.5,422.8C867.2,428.8 878.4,436.1 894.6,440.8C910.9,445.5 933,447.6 951,451C969,454.4 988.7,457.5 1002.4,461.4C1016.1,465.3 1023.3,472.1 1033.2,474.2C1043.1,476.3 1056.4,474.2 1062,474.2C1067.6,474.2 1066.2,474.2 1067,474.2L1067,580 L-5,580 Z" fill="#bd0026"/><path d="M-5,366.3C-4.2,366.3 -6.1,368 0,366.3C6.1,364.6 21.3,358.1 31.7,356C42.1,353.9 52.2,357.3 62.5,353.5C72.8,349.7 82.2,339.9 93.3,333C104.4,326.1 117.3,318 129.3,312.4C141.3,306.8 148.2,301.7 165.3,299.6C182.4,297.5 213.2,300.5 232,299.6C250.8,298.7 265.4,294.8 278.2,294.4C291,294 297,293.6 309,297C321,300.4 336.3,308.6 350,315C363.7,321.4 376.6,327.4 391.2,335.5C405.8,343.6 423.8,353.1 437.5,363.8C451.2,374.5 460.6,386.9 473.4,399.7C486.2,412.5 501.6,429.7 514.5,440.8C527.4,451.9 539.4,460.5 550.5,466.5C561.6,472.5 570.2,476.8 581.3,476.8C592.4,476.8 604.2,470.8 617,466.5C629.8,462.2 644.6,456.6 658.3,451C672,445.4 685.7,436.8 699.4,433C713.1,429.2 728.5,428.4 740.5,428C752.5,427.6 759.3,427.5 771.3,430.5C783.3,433.5 798.7,440 812.4,446C826.1,452 839.8,460.1 853.5,466.5C867.2,472.9 878.4,479.8 894.6,484.5C910.9,489.2 933,491.7 951,494.7C969,497.7 988.7,499.4 1002.4,502.4C1016.1,505.4 1023.3,511 1033.2,512.7C1043.1,514.4 1056.4,512.7 1062,512.7C1067.6,512.7 1066.2,512.7 1067,512.7L1067,580 L-5,580 Z" fill="#800026"/></svg></g><g id="pb4"><svg x="1560.3" y="313.5" width="360.1" height="195" viewBox="0 0 1062 575" preserveAspectRatio="none" overflow="visible"><rect x="-10" y="-10" width="1082" height="595" fill="#ffffcc"/><path d="M-5,-5 1067,-5 1067,580 -5,580Z" fill="#fff3af"/><path d="M412.5,-5 412.5,0.3 420,13 451,28.6 487,41.4 538.4,49 615.4,53.2 692.5,56.8 769.5,67 846.5,72.2 923.6,74.8 1000.6,80 1036.6,87.6 1067,96 1067,-5Z" fill="#ffffcc"/><path d="M-5,26C-4.2,26 -5.8,25.2 0,26C5.8,26.8 17.3,28.9 30,31C42.7,33.1 55.5,37.9 76,38.8C96.5,39.7 127.3,35.4 153,36.3C178.7,37.2 204.3,42.3 230,44C255.7,45.7 281.3,45.2 307,46.5C332.7,47.8 362.6,50 384,51.7C405.4,53.4 418.5,53.8 435.7,56.8C452.9,59.8 469.9,66.2 487,69.6C504.1,73 517,75.1 538.4,77.3C559.8,79.5 589.7,80.8 615.4,82.5C641.1,84.2 666.8,85.5 692.5,87.6C718.2,89.7 743.8,92.7 769.5,95.3C795.2,97.9 820.8,100.9 846.5,103C872.2,105.1 897.9,106.3 923.6,108C949.3,109.7 980.9,110.6 1000.6,113.3C1020.3,116 1031.5,120.2 1041.7,124C1051.9,127.8 1057.8,134 1062,136C1066.2,138 1066.2,136 1067,136L1067,580 L-5,580 Z" fill="#ffe694"/><path d="M-5,92.8C-4.2,92.8 -5.8,94.9 0,92.8C5.8,90.7 14.8,83.9 30,80C45.2,76.1 71,70.9 91.5,69.6C112,68.3 129.9,71.3 153,72.2C176.1,73.1 204.3,75.2 230,74.8C255.7,74.4 285.6,70.6 307,69.6C328.4,68.6 341.4,67.3 358.6,68.6C375.8,69.9 392.9,73.7 410,77.3C427.1,80.9 444.2,85.1 461.3,90.2C478.4,95.3 495.6,104.2 512.7,108C529.8,111.8 542.6,111.6 564,113.3C585.4,115 615.3,116.7 641,118.4C666.7,120.1 692.3,121 718,123.6C743.7,126.2 769.3,131.2 795,133.8C820.7,136.4 846.3,136.8 872,139C897.7,141.2 927.6,144.6 949,146.7C970.4,148.8 985.1,149.1 1000.6,151.8C1016.1,154.5 1031.5,159 1041.7,163C1051.9,167 1057.8,173.8 1062,176C1066.2,178.2 1066.2,176 1067,176L1067,580 L-5,580 Z" fill="#fed976"/><path d="M-5,133.8C-4.2,133.8 -5.8,136.4 0,133.8C5.8,131.2 13,123.8 30,118.4C47,113 81.3,104.1 101.8,101.5C122.3,98.9 134.2,103.9 153,103C171.8,102.1 193.4,96.9 214.8,96.3C236.2,95.7 257.6,100 281.6,99.4C305.6,98.8 337.2,92.6 358.6,92.8C380,93 392.9,95.8 410,100.5C427.1,105.2 444.2,114.6 461.3,121C478.4,127.4 495.6,135.4 512.7,139C529.8,142.6 542.6,139.2 564,142.6C585.4,146 615.3,156.7 641,159.5C666.7,162.3 696.6,157.3 718,159.5C739.4,161.7 752.3,169 769.5,172.4C786.7,175.8 799.6,176.2 821,180C842.4,183.8 876.7,190.8 898,195.5C919.3,200.2 931.9,205.1 949,208.3C966.1,211.6 987.8,211.1 1000.6,215C1013.4,218.9 1018.3,226.2 1026,232C1033.7,237.8 1040.8,245.3 1046.8,250C1052.8,254.7 1058.6,258.3 1062,260C1065.4,261.7 1066.2,260 1067,260L1067,580 L-5,580 Z" fill="#feb44e"/><path d="M-5,164.7C-4.2,164.7 -5.8,166.8 0,164.7C5.8,162.5 13,156.7 30,151.8C47,146.9 81.3,138 101.8,135.4C122.3,132.8 134.2,137.5 153,136.4C171.8,135.3 193.4,129.7 214.8,128.7C236.2,127.7 257.6,131.3 281.6,130.2C305.6,129.1 337.2,121.4 358.6,122C380,122.6 392.9,128.4 410,133.8C427.1,139.2 444.2,147.5 461.3,154.4C478.4,161.3 495.6,170.7 512.7,175C529.8,179.3 542.6,176.6 564,180C585.4,183.4 615.3,192.9 641,195.5C666.7,198.1 696.6,193.4 718,195.5C739.4,197.6 752.3,205.3 769.5,208.3C786.7,211.3 799.6,210.4 821,213.4C842.4,216.4 876.7,222 898,226.3C919.3,230.6 931.9,235.6 949,239C966.1,242.4 987.8,243.2 1000.6,247C1013.4,250.8 1018.3,256.2 1026,262C1033.7,267.8 1040.8,276.3 1046.8,282C1052.8,287.7 1058.6,293.7 1062,296C1065.4,298.3 1066.2,296 1067,296L1067,580 L-5,580 Z" fill="#fda044"/><path d="M-5,198C-4.2,198 -5.8,200.6 0,198C5.8,195.4 13,187.7 30,182.6C47,177.5 81.3,169.3 101.8,167.2C122.3,165.1 134.2,170.7 153,169.8C171.8,168.9 193.4,162.8 214.8,162C236.2,161.2 257.6,165.7 281.6,164.7C305.6,163.7 337.2,155.6 358.6,156C380,156.4 392.9,161.5 410,167.2C427.1,172.9 444.2,183 461.3,190.3C478.4,197.6 495.6,206.6 512.7,210.9C529.8,215.2 542.6,212.6 564,216C585.4,219.4 615.3,228.8 641,231.4C666.7,234 696.6,229.2 718,231.4C739.4,233.6 752.3,241.3 769.5,244.3C786.7,247.3 799.6,246.4 821,249.4C842.4,252.4 876.7,258.3 898,262.2C919.3,266.1 931.9,269.4 949,272.5C966.1,275.6 989.4,278.1 1000.6,281C1011.8,283.9 1010.9,285.7 1016,290C1021.1,294.3 1026.3,300.3 1031.4,307C1036.5,313.7 1041.7,324.3 1046.8,330C1051.9,335.7 1058.6,339.2 1062,341C1065.4,342.8 1066.2,341 1067,341L1067,580 L-5,580 Z" fill="#fd8d3c"/><path d="M-5,234C-4.2,234 -5.8,237 0,234C5.8,231 17.3,220.3 30,216C42.7,211.7 65.8,209.2 76,208.3C86.2,207.5 78.7,212.6 91.5,210.9C104.3,209.2 132.4,200.2 153,198C173.6,195.8 193.4,198.2 214.8,198C236.2,197.8 257.6,198.3 281.6,197C305.6,195.7 337.2,189.3 358.6,190.3C380,191.3 394.6,197.4 410,203C425.4,208.6 437.3,216 451,223.7C464.7,231.4 477.4,243.4 492,249.4C506.6,255.4 522.1,258.4 538.4,259.7C554.7,261 572.6,254.9 589.7,257C606.8,259.1 621.3,269.1 641,272.5C660.7,275.9 692.6,275.9 708,277.6C723.4,279.4 723.2,280.2 733.5,283C743.8,285.8 754.9,291.6 769.5,294.4C784.1,297.2 803.9,297.5 821,299.6C838.1,301.8 856.7,304.7 872,307.3C887.3,309.9 900.2,312 913,315C925.8,318 937,322.3 949,325.3C961,328.3 975.5,330.1 985,333C994.5,335.9 998,337.4 1005.7,343C1013.4,348.6 1022,359.4 1031.4,366.3C1040.8,373.2 1056.1,381.3 1062,384.3C1067.9,387.3 1066.2,384.3 1067,384.3L1067,580 L-5,580 Z" fill="#fc4e2a"/><path d="M-5,267.4C-4.2,267.4 -5.8,270.8 0,267.4C5.8,264 21.6,251.1 30,246.8C38.4,242.5 40.2,242.1 50.5,241.7C60.8,241.3 74.4,246.2 91.5,244.3C108.6,242.4 132.4,231.7 153,230C173.6,228.3 193.4,233.5 214.8,234C236.2,234.5 257.6,234 281.6,233C305.6,232 337.2,226.8 358.6,227.8C380,228.8 394.6,233.3 410,239C425.4,244.7 438.2,254.9 451,262.2C463.8,269.5 476.7,277.6 487,283C497.3,288.4 502.4,292.1 512.7,294.4C523,296.7 536.7,296.7 548.7,297C560.7,297.3 573.5,294.3 584.6,296C595.7,297.7 605.1,303.3 615.4,307.3C625.7,311.3 630.8,317.4 646.2,320C661.6,322.6 692.6,320.5 708,322.7C723.4,324.9 726.7,330.9 738.7,333C750.7,335.1 766.1,334.7 779.8,335.5C793.5,336.3 805.6,335.9 821,338C836.4,340.1 856.7,346.2 872,348.4C887.3,350.6 900.2,349.3 913,351C925.8,352.7 937,356.5 949,358.6C961,360.7 974.7,360.8 985,363.8C995.3,366.8 1002.4,371.1 1011,376.6C1019.6,382.1 1028.1,391.4 1036.6,397C1045.1,402.6 1056.9,407.8 1062,410C1067.1,412.2 1066.2,410 1067,410L1067,580 L-5,580 Z" fill="#e31a1c"/><path d="M-5,304.7C-4.2,304.7 -3.2,307.3 0,304.7C3.2,302.1 9.5,292.8 14.5,289.3C19.5,285.9 24,286.8 30,284C36,281.2 40.2,274.4 50.5,272.5C60.8,270.6 74.4,274.2 91.5,272.5C108.6,270.8 132.4,262.6 153,262.2C173.6,261.8 193.4,268.9 214.8,270C236.2,271.1 257.6,270 281.6,269C305.6,268 337.2,262.4 358.6,263.8C380,265.2 398,274.2 410,277.6C422,281 423.7,280.8 430.5,284C437.3,287.2 443.3,291 451,297C458.7,303 466.4,313.6 476.7,320C487,326.4 500.7,332.9 512.7,335.5C524.7,338.1 536.7,335.5 548.7,335.5C560.7,335.5 573.5,333.4 584.6,335.5C595.7,337.6 601.7,343.7 615.4,348.4C629.1,353.1 651.4,361.2 666.8,363.8C682.2,366.4 696,362.1 708,363.8C720,365.5 726.7,371.9 738.7,374C750.7,376.1 766.1,375.8 779.8,376.6C793.5,377.4 805.6,377.3 821,379C836.4,380.7 856.7,385.2 872,387C887.3,388.8 900.2,387.4 913,389.5C925.8,391.6 937,397.6 949,399.7C961,401.8 973.8,399.8 985,402.3C996.2,404.9 1006.5,409.9 1016,415C1025.5,420.1 1034,428.7 1041.7,433C1049.4,437.3 1057.8,439.5 1062,440.8C1066.2,442.1 1066.2,440.8 1067,440.8L1067,580 L-5,580 Z" fill="#d00a21"/><path d="M-5,348.4C-4.2,348.4 -5,351.8 0,348.4C5,345 16.4,334.2 24.8,327.8C33.2,321.4 41.1,313.2 50.5,309.8C59.9,306.4 70.2,308.6 81.3,307.3C92.4,306 102.5,303.6 117,302C131.6,300.4 152.3,297.6 168.6,298C184.9,298.4 200.2,303.6 214.8,304.7C229.4,305.8 244,305.3 256,304.7C268,304.1 273.9,301.3 286.7,301C299.5,300.7 317.6,303 333,303C348.4,303 366.2,299.4 379,301C391.8,302.6 399.7,307.1 410,312.4C420.3,317.7 429.7,325.3 440.8,333C451.9,340.7 464.7,351.3 476.7,358.6C488.7,365.9 500.7,373.4 512.7,376.6C524.7,379.8 536.7,377.8 548.7,378C560.7,378.2 573.5,376.1 584.6,378C595.7,379.9 601.7,385 615.4,389.5C629.1,394 651.4,401.9 666.8,404.9C682.2,407.9 696,405.7 708,407.4C720,409.1 726.7,413.3 738.7,415C750.7,416.7 766.1,416.8 779.8,417.7C793.5,418.6 805.6,418.6 821,420.3C836.4,422 856.7,426.3 872,428C887.3,429.7 900.2,428.4 913,430.5C925.8,432.6 937,438.2 949,440.8C961,443.4 973.8,443.4 985,446C996.2,448.6 1006.5,452.8 1016,456.2C1025.5,459.6 1034,464.4 1041.7,466.5C1049.4,468.6 1057.8,468.6 1062,469C1066.2,469.4 1066.2,469 1067,469L1067,580 L-5,580 Z" fill="#bd0026"/><path d="M-5,392C-4.2,392 -5,395.4 0,392C5,388.6 16.4,377.9 24.8,371.5C33.2,365.1 41.1,356.1 50.5,353.5C59.9,350.9 70.2,357.8 81.3,356C92.4,354.2 102.5,345.6 117,343C131.6,340.4 152.3,339.8 168.6,340.7C184.9,341.6 200.2,347.3 214.8,348.4C229.4,349.5 244,348.6 256,347.3C268,346 273.9,341.6 286.7,340.7C299.5,339.8 317.6,341.8 333,342C348.4,342.2 366.2,339.7 379,342C391.8,344.3 399.7,350.2 410,356C420.3,361.8 429.7,369.3 440.8,376.6C451.9,383.9 464.7,392.6 476.7,399.7C488.7,406.8 500.7,415.8 512.7,419.2C524.7,422.6 536.7,420.1 548.7,420.3C560.7,420.5 573.5,418.2 584.6,420.3C595.7,422.4 601.7,428.7 615.4,433C629.1,437.3 651.4,443 666.8,446C682.2,449 696,448.4 708,451C720,453.6 726.7,459.7 738.7,461.4C750.7,463.1 766.1,461 779.8,461.4C793.5,461.8 805.6,462.3 821,464C836.4,465.7 856.7,470.2 872,471.6C887.3,473 900.2,470.5 913,472.6C925.8,474.8 937,481.7 949,484.5C961,487.3 973.8,487 985,489.6C996.2,492.2 1006.5,497.3 1016,499.9C1025.5,502.5 1034,505 1041.7,505C1049.4,505 1057.8,500.8 1062,499.9C1066.2,499 1066.2,499.9 1067,499.9L1067,580 L-5,580 Z" fill="#800026"/></svg></g></defs>
<g>
<svg x="143" y="42" width="359" height="194" viewBox="143 42 359 194" overflow="hidden"><use href="#pa1"/></svg>
<svg x="142" y="42" width="1" height="194" viewBox="142 42 1 194" overflow="hidden" opacity="0.20"><use href="#pa1"/></svg>
<svg x="502" y="42" width="1" height="194" viewBox="502 42 1 194" overflow="hidden" opacity="0.30"><use href="#pa1"/></svg>
<svg x="143" y="236" width="359" height="1" viewBox="143 236 359 1" overflow="hidden" opacity="0.60"><use href="#pa1"/></svg>
<rect x="142.8" y="40.9" width="359.5" height="1.75" fill="#868686"/>
<text class="t tk" x="136.4" y="47.3" text-anchor="end">0</text>
<text class="t tk" x="136.4" y="112.3" text-anchor="end">-200</text>
<text class="t tk" x="136.4" y="177.4" text-anchor="end">-400</text>
<text class="t tk" x="136.4" y="242.5" text-anchor="end">-600</text>
<text class="t tk" x="151" y="257.9" text-anchor="middle">-40</text>
<text class="t tk" x="204.7" y="257.9" text-anchor="middle">-38</text>
<text class="t tk" x="258.3" y="257.9" text-anchor="middle">-36</text>
<text class="t tk" x="312" y="257.9" text-anchor="middle">-34</text>
<text class="t tk" x="365.6" y="257.9" text-anchor="middle">-32</text>
<text class="t tk" x="419.3" y="257.9" text-anchor="middle">-30</text>
<text class="t tk" x="473" y="257.9" text-anchor="middle">-28</text>
<text class="t ti" x="322.2" y="34.9" text-anchor="middle">Summer</text>
</g>
<g>
<svg x="616" y="42" width="358" height="194" viewBox="616 42 358 194" overflow="hidden"><use href="#pa2"/></svg>
<svg x="615" y="42" width="1" height="194" viewBox="615 42 1 194" overflow="hidden" opacity="0.50"><use href="#pa2"/></svg>
<svg x="974" y="42" width="1" height="194" viewBox="974 42 1 194" overflow="hidden" opacity="0.50"><use href="#pa2"/></svg>
<svg x="616" y="236" width="358" height="1" viewBox="616 236 358 1" overflow="hidden" opacity="0.60"><use href="#pa2"/></svg>
<rect x="615.5" y="40.9" width="359" height="1.75" fill="#868686"/>
<text class="t tk" x="609.1" y="47.3" text-anchor="end">0</text>
<text class="t tk" x="609.1" y="112.3" text-anchor="end">-200</text>
<text class="t tk" x="609.1" y="177.4" text-anchor="end">-400</text>
<text class="t tk" x="609.1" y="242.5" text-anchor="end">-600</text>
<text class="t tk" x="623.7" y="257.9" text-anchor="middle">-40</text>
<text class="t tk" x="677.3" y="257.9" text-anchor="middle">-38</text>
<text class="t tk" x="730.9" y="257.9" text-anchor="middle">-36</text>
<text class="t tk" x="784.5" y="257.9" text-anchor="middle">-34</text>
<text class="t tk" x="838" y="257.9" text-anchor="middle">-32</text>
<text class="t tk" x="891.6" y="257.9" text-anchor="middle">-30</text>
<text class="t tk" x="945.2" y="257.9" text-anchor="middle">-28</text>
<text class="t ti" x="794.7" y="34.9" text-anchor="middle">Autumn</text>
</g>
<g>
<svg x="1088" y="42" width="358" height="194" viewBox="1088 42 358 194" overflow="hidden"><use href="#pa3"/></svg>
<svg x="1087" y="42" width="1" height="194" viewBox="1087 42 1 194" overflow="hidden" opacity="0.10"><use href="#pa3"/></svg>
<svg x="1446" y="42" width="1" height="194" viewBox="1446 42 1 194" overflow="hidden" opacity="0.80"><use href="#pa3"/></svg>
<svg x="1088" y="236" width="358" height="1" viewBox="1088 236 358 1" overflow="hidden" opacity="0.60"><use href="#pa3"/></svg>
<rect x="1087.9" y="40.9" width="358.9" height="1.75" fill="#868686"/>
<text class="t tk" x="1081.5" y="47.3" text-anchor="end">0</text>
<text class="t tk" x="1081.5" y="112.3" text-anchor="end">-200</text>
<text class="t tk" x="1081.5" y="177.4" text-anchor="end">-400</text>
<text class="t tk" x="1081.5" y="242.5" text-anchor="end">-600</text>
<text class="t tk" x="1096.1" y="257.9" text-anchor="middle">-40</text>
<text class="t tk" x="1149.7" y="257.9" text-anchor="middle">-38</text>
<text class="t tk" x="1203.2" y="257.9" text-anchor="middle">-36</text>
<text class="t tk" x="1256.8" y="257.9" text-anchor="middle">-34</text>
<text class="t tk" x="1310.4" y="257.9" text-anchor="middle">-32</text>
<text class="t tk" x="1364" y="257.9" text-anchor="middle">-30</text>
<text class="t tk" x="1417.5" y="257.9" text-anchor="middle">-28</text>
<text class="t ti" x="1267" y="34.9" text-anchor="middle">Winter</text>
</g>
<g>
<svg x="1561" y="42" width="358" height="194" viewBox="1561 42 358 194" overflow="hidden"><use href="#pa4"/></svg>
<svg x="1560" y="42" width="1" height="194" viewBox="1560 42 1 194" overflow="hidden" opacity="0.20"><use href="#pa4"/></svg>
<svg x="1919" y="42" width="1" height="194" viewBox="1919 42 1 194" overflow="hidden" opacity="0.30"><use href="#pa4"/></svg>
<svg x="1561" y="236" width="358" height="1" viewBox="1561 236 358 1" overflow="hidden" opacity="0.60"><use href="#pa4"/></svg>
<rect x="1560.8" y="40.9" width="358.5" height="1.75" fill="#868686"/>
<text class="t tk" x="1554.4" y="47.3" text-anchor="end">0</text>
<text class="t tk" x="1554.4" y="112.3" text-anchor="end">-200</text>
<text class="t tk" x="1554.4" y="177.4" text-anchor="end">-400</text>
<text class="t tk" x="1554.4" y="242.5" text-anchor="end">-600</text>
<text class="t tk" x="1569" y="257.9" text-anchor="middle">-40</text>
<text class="t tk" x="1622.5" y="257.9" text-anchor="middle">-38</text>
<text class="t tk" x="1676" y="257.9" text-anchor="middle">-36</text>
<text class="t tk" x="1729.5" y="257.9" text-anchor="middle">-34</text>
<text class="t tk" x="1783" y="257.9" text-anchor="middle">-32</text>
<text class="t tk" x="1836.6" y="257.9" text-anchor="middle">-30</text>
<text class="t tk" x="1890.1" y="257.9" text-anchor="middle">-28</text>
<text class="t ti" x="1739.8" y="34.9" text-anchor="middle">Spring</text>
</g>
<g>
<svg x="143" y="314" width="359" height="194" viewBox="143 314 359 194" overflow="hidden"><use href="#pb1"/></svg>
<svg x="142" y="314" width="1" height="194" viewBox="142 314 1 194" overflow="hidden" opacity="0.20"><use href="#pb1"/></svg>
<svg x="502" y="314" width="1" height="194" viewBox="502 314 1 194" overflow="hidden" opacity="0.30"><use href="#pb1"/></svg>
<svg x="143" y="508" width="359" height="1" viewBox="143 508 359 1" overflow="hidden" opacity="0.30"><use href="#pb1"/></svg>
<rect x="142.8" y="312.6" width="359.5" height="1.75" fill="#5a5a5a"/>
<text class="t tk" x="136.4" y="319" text-anchor="end">0</text>
<text class="t tk" x="136.4" y="384.1" text-anchor="end">-200</text>
<text class="t tk" x="136.4" y="449.1" text-anchor="end">-400</text>
<text class="t tk" x="136.4" y="514.2" text-anchor="end">-600</text>
<text class="t tk" x="151" y="529.6" text-anchor="middle">-40</text>
<text class="t tk" x="204.7" y="529.6" text-anchor="middle">-38</text>
<text class="t tk" x="258.3" y="529.6" text-anchor="middle">-36</text>
<text class="t tk" x="312" y="529.6" text-anchor="middle">-34</text>
<text class="t tk" x="365.6" y="529.6" text-anchor="middle">-32</text>
<text class="t tk" x="419.3" y="529.6" text-anchor="middle">-30</text>
<text class="t tk" x="473" y="529.6" text-anchor="middle">-28</text>
</g>
<g>
<svg x="616" y="314" width="358" height="194" viewBox="616 314 358 194" overflow="hidden"><use href="#pb2"/></svg>
<svg x="615" y="314" width="1" height="194" viewBox="615 314 1 194" overflow="hidden" opacity="0.50"><use href="#pb2"/></svg>
<svg x="974" y="314" width="1" height="194" viewBox="974 314 1 194" overflow="hidden" opacity="0.50"><use href="#pb2"/></svg>
<svg x="616" y="508" width="358" height="1" viewBox="616 508 358 1" overflow="hidden" opacity="0.30"><use href="#pb2"/></svg>
<rect x="615.5" y="312.6" width="359" height="1.75" fill="#5a5a5a"/>
<text class="t tk" x="609.1" y="319" text-anchor="end">0</text>
<text class="t tk" x="609.1" y="384.1" text-anchor="end">-200</text>
<text class="t tk" x="609.1" y="449.1" text-anchor="end">-400</text>
<text class="t tk" x="609.1" y="514.2" text-anchor="end">-600</text>
<text class="t tk" x="623.7" y="529.6" text-anchor="middle">-40</text>
<text class="t tk" x="677.3" y="529.6" text-anchor="middle">-38</text>
<text class="t tk" x="730.9" y="529.6" text-anchor="middle">-36</text>
<text class="t tk" x="784.5" y="529.6" text-anchor="middle">-34</text>
<text class="t tk" x="838" y="529.6" text-anchor="middle">-32</text>
<text class="t tk" x="891.6" y="529.6" text-anchor="middle">-30</text>
<text class="t tk" x="945.2" y="529.6" text-anchor="middle">-28</text>
</g>
<g>
<svg x="1088" y="314" width="358" height="194" viewBox="1088 314 358 194" overflow="hidden"><use href="#pb3"/></svg>
<svg x="1087" y="314" width="1" height="194" viewBox="1087 314 1 194" overflow="hidden" opacity="0.10"><use href="#pb3"/></svg>
<svg x="1446" y="314" width="1" height="194" viewBox="1446 314 1 194" overflow="hidden" opacity="0.80"><use href="#pb3"/></svg>
<svg x="1088" y="508" width="358" height="1" viewBox="1088 508 358 1" overflow="hidden" opacity="0.30"><use href="#pb3"/></svg>
<rect x="1087.9" y="312.6" width="358.9" height="1.75" fill="#5a5a5a"/>
<text class="t tk" x="1081.5" y="319" text-anchor="end">0</text>
<text class="t tk" x="1081.5" y="384.1" text-anchor="end">-200</text>
<text class="t tk" x="1081.5" y="449.1" text-anchor="end">-400</text>
<text class="t tk" x="1081.5" y="514.2" text-anchor="end">-600</text>
<text class="t tk" x="1096.1" y="529.6" text-anchor="middle">-40</text>
<text class="t tk" x="1149.7" y="529.6" text-anchor="middle">-38</text>
<text class="t tk" x="1203.2" y="529.6" text-anchor="middle">-36</text>
<text class="t tk" x="1256.8" y="529.6" text-anchor="middle">-34</text>
<text class="t tk" x="1310.4" y="529.6" text-anchor="middle">-32</text>
<text class="t tk" x="1364" y="529.6" text-anchor="middle">-30</text>
<text class="t tk" x="1417.5" y="529.6" text-anchor="middle">-28</text>
</g>
<g>
<svg x="1561" y="314" width="358" height="194" viewBox="1561 314 358 194" overflow="hidden"><use href="#pb4"/></svg>
<svg x="1560" y="314" width="1" height="194" viewBox="1560 314 1 194" overflow="hidden" opacity="0.20"><use href="#pb4"/></svg>
<svg x="1919" y="314" width="1" height="194" viewBox="1919 314 1 194" overflow="hidden" opacity="0.30"><use href="#pb4"/></svg>
<svg x="1561" y="508" width="358" height="1" viewBox="1561 508 358 1" overflow="hidden" opacity="0.30"><use href="#pb4"/></svg>
<rect x="1560.8" y="312.6" width="358.5" height="1.75" fill="#5a5a5a"/>
<text class="t tk" x="1554.4" y="319" text-anchor="end">0</text>
<text class="t tk" x="1554.4" y="384.1" text-anchor="end">-200</text>
<text class="t tk" x="1554.4" y="449.1" text-anchor="end">-400</text>
<text class="t tk" x="1554.4" y="514.2" text-anchor="end">-600</text>
<text class="t tk" x="1569" y="529.6" text-anchor="middle">-40</text>
<text class="t tk" x="1622.5" y="529.6" text-anchor="middle">-38</text>
<text class="t tk" x="1676" y="529.6" text-anchor="middle">-36</text>
<text class="t tk" x="1729.5" y="529.6" text-anchor="middle">-34</text>
<text class="t tk" x="1783" y="529.6" text-anchor="middle">-32</text>
<text class="t tk" x="1836.6" y="529.6" text-anchor="middle">-30</text>
<text class="t tk" x="1890.1" y="529.6" text-anchor="middle">-28</text>
</g>
<text class="t lb" x="322.1" y="553.8" text-anchor="middle">Latitude</text>
<text class="t lb" transform="translate(93.1,405.8) rotate(-90)" text-anchor="middle">Depth</text>
<text class="big" x="18.2" y="54.6" font-size="36">(a)</text>
<text class="big" x="18.2" y="328.8" font-size="36">(b)</text>
<text class="big" transform="translate(48.4,186.4) rotate(-90)" font-size="35.5" textLength="85" lengthAdjust="spacingAndGlyphs">CARS</text>
<text class="big" transform="translate(47.6,450.4) rotate(-90)" font-size="35.5" textLength="91" lengthAdjust="spacingAndGlyphs">ROMS</text>
<rect x="1966" y="469.4" width="21.6" height="39.3" fill="#ffffcc"/>
<rect x="1966" y="430.6" width="21.6" height="39.3" fill="#fff3af"/>
<rect x="1966" y="391.7" width="21.6" height="39.3" fill="#ffe694"/>
<rect x="1966" y="352.8" width="21.6" height="39.3" fill="#fed976"/>
<rect x="1966" y="313.9" width="21.6" height="39.3" fill="#feb44e"/>
<rect x="1966" y="275.1" width="21.6" height="39.3" fill="#fda044"/>
<rect x="1966" y="236.2" width="21.6" height="39.3" fill="#fd8d3c"/>
<rect x="1966" y="197.3" width="21.6" height="39.3" fill="#fc4e2a"/>
<rect x="1966" y="158.4" width="21.6" height="39.3" fill="#e31a1c"/>
<rect x="1966" y="119.6" width="21.6" height="39.3" fill="#d00a21"/>
<rect x="1966" y="80.7" width="21.6" height="39.3" fill="#bd0026"/>
<rect x="1966" y="41.8" width="21.6" height="39.3" fill="#800026"/>
<rect x="1966" y="41.8" width="21.6" height="466.5" fill="none" stroke="#262626" stroke-width="0.8" stroke-opacity="0.75"/>
<text class="t tk" x="1994" y="514.4">0</text>
<rect x="1983.6" y="352.4" width="4" height="0.9" fill="#262626"/>
<text class="t tk" x="1994" y="358.9">5</text>
<rect x="1983.6" y="196.9" width="4" height="0.9" fill="#262626"/>
<text class="t tk" x="1994" y="203.4">10</text>
<text class="t tk" x="1994" y="47.9">15</text>
<text class="t lb" transform="translate(2044.6,276) rotate(-90)" text-anchor="middle">mmol N m<tspan dy="-9" font-size="16.5">-3</tspan></text>
</svg></body></html>
